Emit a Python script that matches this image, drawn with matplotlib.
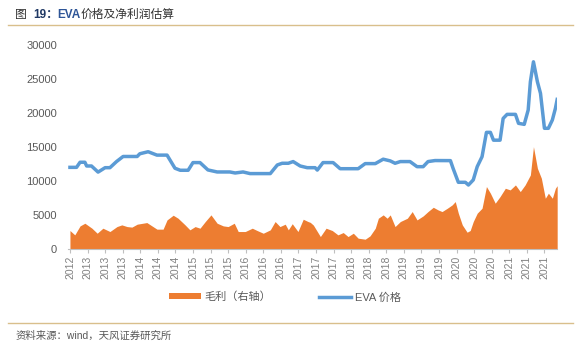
import matplotlib
matplotlib.use("Agg")
import matplotlib.pyplot as plt
from matplotlib.patches import Patch
from matplotlib.lines import Line2D

plt.rcParams['font.family'] = ['Liberation Sans', 'Noto Sans CJK SC', 'DejaVu Sans']

# x values are months counted from Oct 2012
eva_t = [0, 1.5, 2.3, 3.4, 3.8, 4.9, 6.4, 8.0, 9.1, 10.6, 12.1, 15.3, 15.9, 17.8, 19.8,
         22.1, 23.9, 25.1, 26.9, 28.0, 29.6, 31.4, 33.5, 36.4, 37.6, 39.4, 41.0, 45.6,
         47.2, 48.3, 49.7, 50.8, 52.4, 54.0, 55.8, 56.3, 57.6, 59.9, 61.5, 65.6, 67.2,
         69.5, 71.3, 72.9, 74.0, 75.2, 77.4, 79.0, 80.4, 81.5, 83.1, 86.6, 87.2, 88.4,
         90.0, 90.7, 91.8, 92.7, 93.8, 94.8, 95.7, 96.4, 97.9, 98.6, 99.5, 101.4, 102.1,
         103.4, 104.3, 104.8, 105.5, 106.4, 107.1, 108.0, 108.9, 109.8, 110.5, 110.9]
eva_price = [12000, 12000, 12750, 12750, 12200, 12200, 11300, 11950, 11950, 12850, 13600,
             13600, 14000, 14300, 13800, 13800, 11870, 11570, 11570, 12700, 12700, 11620,
             11320, 11320, 11170, 11320, 11080, 11080, 12350, 12600, 12600, 12850, 12200,
             11950, 11950, 11600, 12700, 12700, 11800, 11800, 12550, 12550, 13200, 12950,
             12600, 12850, 12850, 12100, 12100, 12850, 13000, 12990, 11860, 9800, 9800,
             9400, 10150, 12100, 13570, 17150, 17150, 16000, 16000, 19200, 19800, 19800,
             18480, 18330, 20440, 24600, 27540, 24600, 22900, 17750, 17750, 18970, 20690,
             22000]

profit_t = [0, 1.1, 2.3, 3.4, 5.0, 6.2, 7.5, 9.1, 10.7, 11.8, 13.0, 14.1, 15.3, 17.5,
            19.8, 21.2, 22.1, 23.5, 24.6, 26.2, 27.3, 28.5, 29.6, 30.8, 32.1, 33.5, 34.9,
            36.0, 37.4, 38.3, 39.9, 41.5, 42.6, 44.0, 45.6, 46.7, 47.8, 49.0, 49.7, 50.6,
            51.9, 53.1, 54.2, 54.7, 55.4, 57.0, 58.3, 59.7, 61.0, 62.2, 63.3, 64.5, 65.6,
            67.2, 68.3, 69.5, 70.2, 71.3, 72.2, 72.9, 74.0, 75.2, 76.8, 77.9, 79.0, 80.4,
            81.5, 82.7, 83.8, 84.7, 85.9, 87.0, 87.7, 88.4, 89.3, 90.4, 91.1, 91.8, 92.7,
            93.8, 94.8, 95.7, 96.8, 97.9, 99.1, 100.2, 101.4, 102.5, 103.6, 104.8, 105.5,
            106.4, 107.3, 108.2, 108.9, 109.8, 110.5, 110.9]
gross_profit = [2700, 2060, 3380, 3770, 3040, 2300, 3040, 2550, 3280, 3530, 3280, 3200,
                3630, 3870, 2900, 2900, 4260, 4950, 4510, 3530, 2800, 3280, 3040, 4020,
                5000, 3770, 3380, 3280, 3770, 2550, 2550, 3040, 2700, 2300, 2800, 4020,
                3280, 3630, 2800, 3700, 2550, 4360, 4020, 3900, 3500, 1810, 3040, 2700,
                2060, 2400, 1810, 2300, 1570, 1420, 1910, 3040, 4510, 5000, 4510, 5000,
                3280, 4020, 4510, 5490, 4260, 4850, 5490, 6120, 5730, 5490, 5980, 6470,
                6960, 5250, 3530, 2450, 2700, 4020, 5250, 5980, 9170, 8190, 6720, 7700,
                8920, 8680, 9410, 8430, 9410, 10880, 15040, 11860, 10400, 7450, 8190,
                7450, 8920, 9300]

tick_pos = list(range(0, 112, 4))
tick_labels = ['2012'] + [str(y) for y in range(2013, 2022) for _ in range(3)]

blue = '#5B9BD5'
orange = '#ED7D31'
grey = '#595959'

fig = plt.figure(figsize=(5.81, 3.55), dpi=100)
ax = fig.add_axes([0.117, 0.299, 0.842, 0.574])

ax.fill_between(profit_t, gross_profit, 0, color=orange, linewidth=0, zorder=2)
ax.plot(eva_t, eva_price, color=blue, linewidth=2.5, zorder=3, solid_joinstyle='round')

ax.set_xlim(-0.45, 110.9)
ax.set_ylim(0, 30000)
ax.set_yticks(range(0, 30001, 5000))
ax.set_xticks(tick_pos)
ax.set_xticklabels(tick_labels, rotation=90)
ax.tick_params(axis='y', length=0, labelsize=8, labelcolor=grey, pad=8)
ax.tick_params(axis='x', length=3, color='#BFBFBF', labelsize=7.5, labelcolor='#808080', pad=2)
for s in ['top', 'right', 'left']:
    ax.spines[s].set_visible(False)
ax.spines['bottom'].set_color('#BFBFBF')

handles = [Patch(facecolor=orange, edgecolor='none'),
           Line2D([0], [0], color=blue, linewidth=2.5)]
fig.legend(handles, ['毛利（右轴）', 'EVA 价格'], loc='center', bbox_to_anchor=(0.49, 0.163),
           ncol=2, frameon=False, fontsize=8, handlelength=2.9, handleheight=0.45,
           columnspacing=4.3, handletextpad=0.3, labelcolor=grey)

# header pieces
fig.text(0.026, 0.958, '图', fontsize=8.5, color='#333333', va='center')
fig.text(0.057, 0.958, '19：', fontsize=8.5, color='#1F3864', fontweight='bold', va='center')
fig.text(0.098, 0.958, 'EVA', fontsize=8.5, color='#2E5597', fontweight='bold', va='center')
fig.text(0.138, 0.958, '价格及净利润估算', fontsize=8.5, color='#333333', va='center')
fig.add_artist(Line2D([0.014, 0.986], [0.93, 0.93], color='#D9BF8C', linewidth=1))
fig.add_artist(Line2D([0.014, 0.986], [0.09, 0.09], color='#D9BF8C', linewidth=1))
fig.text(0.027, 0.053, '资料来源：wind，天风证券研究所', fontsize=7.5, color=grey, va='center')

fig.savefig('out.png', dpi=100)
